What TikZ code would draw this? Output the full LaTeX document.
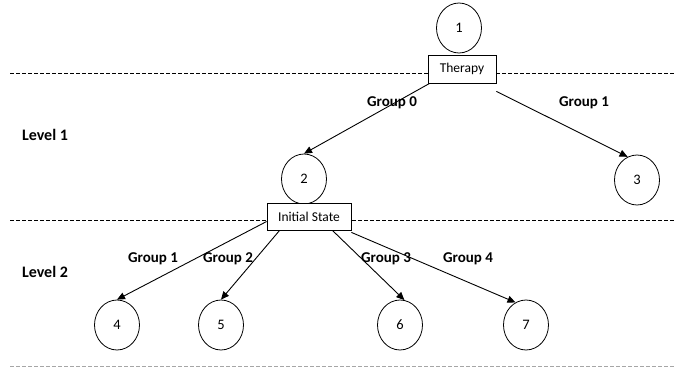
\documentclass[tikz,border=0pt]{standalone}
\usepackage{fontspec}
\setmainfont{Carlito}
\usetikzlibrary{shapes.geometric,arrows.meta}
\begin{document}
\begin{tikzpicture}[x=1pt,y=-1pt,
  st/.style={draw,ellipse,minimum width=45pt,minimum height=50pt,inner sep=0pt,font=\fontsize{14.5}{16}\selectfont,fill=white,line width=0.8pt},
  bx/.style={draw,rectangle,fill=white,font=\fontsize{13.5}{15}\selectfont,inner sep=0pt,line width=0.8pt},
  lbl/.style={font=\bfseries\fontsize{15}{17}\selectfont},
  lvl/.style={font=\bfseries\fontsize{16}{18}\selectfont},
  sep/.style={dashed,dash pattern=on 3.5pt off 2.5pt,line width=0.9pt},
  arr/.style={-{Triangle[length=8pt,width=7pt]},line width=0.9pt}]
\useasboundingbox (0,0) rectangle (683,370);
\draw[sep] (10,73) -- (675,73);
\draw[sep] (10,220) -- (675,220);
\draw[sep,gray!70] (10,366) -- (675,366);
\node[st] (n1) at (459,28) {1};
\node[bx,minimum width=68pt,minimum height=28pt] (th) at (462,69) {Therapy};
\node[st] (n2) at (304,179) {2};
\node[st] (n3) at (637,180) {3};
\node[bx,minimum width=84pt,minimum height=27pt] (is) at (309,216.5) {Initial State};
\node[st] (n4) at (117,325) {4};
\node[st] (n5) at (221,325) {5};
\node[st] (n6) at (400,325) {6};
\node[st] (n7) at (526,325) {7};
\draw[arr] ([xshift=2pt]th.south west) -- (n2.north);
\draw[arr] ([yshift=-8pt]th.south east) -- (n3.112);
\draw[arr] ([yshift=-5pt]is.west) -- (n4.north);
\draw[arr] ([xshift=13pt]is.south west) -- (n5.north);
\draw[arr] ([xshift=-19pt]is.south east) -- (n6.80);
\draw[arr] ([yshift=-2pt]is.south east) -- (n7.115);
\node[lbl] (g0) at (392,103) {Group 0};
\node[lbl] (g1) at (584,103) {Group 1};
\node[lbl] (g11) at (153,259) {Group 1};
\node[lbl] (g2) at (228,259) {Group 2};
\node[lbl] (g3) at (386,259) {Group 3};
\node[lbl] (g4) at (468,259) {Group 4};
\node[lvl] (l1) at (45,135) {Level 1};
\node[lvl] (l2) at (45,272) {Level 2};
\end{tikzpicture}
\end{document}
